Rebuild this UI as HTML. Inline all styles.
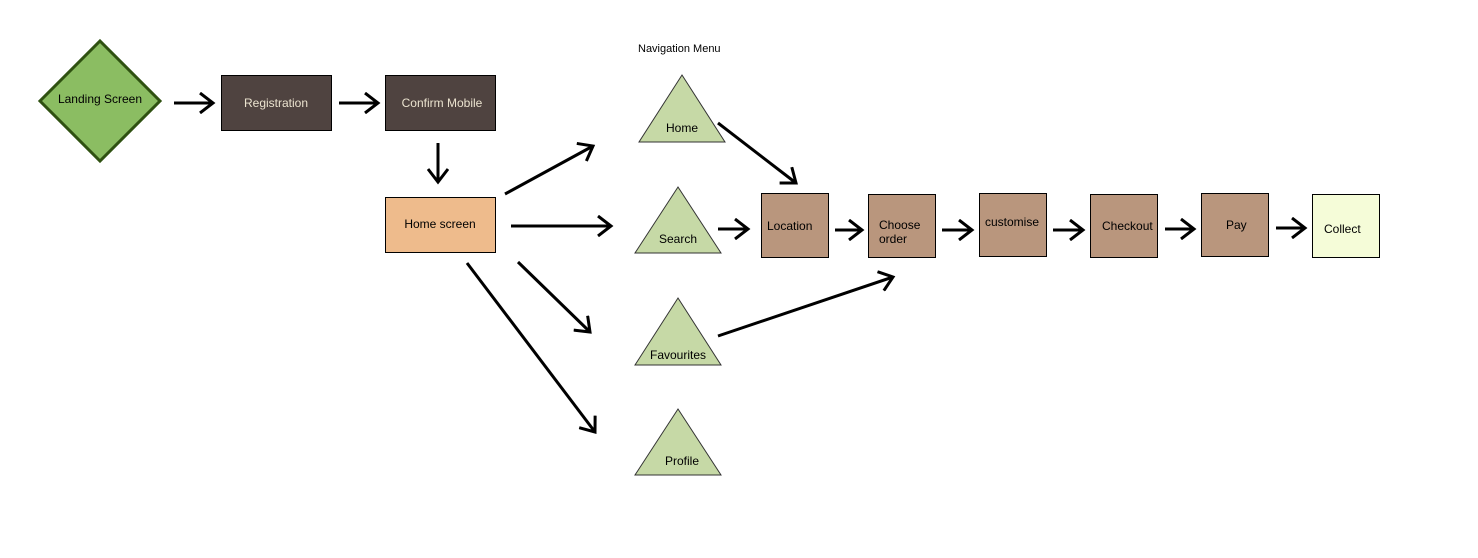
<!DOCTYPE html>
<html><head><style>html,body{margin:0;padding:0;background:#fff;width:1478px;height:558px;overflow:hidden}
text{font-family:"Liberation Sans",sans-serif;font-size:12px}</style></head><body>
<svg width="1478" height="558" viewBox="0 0 1478 558" xmlns="http://www.w3.org/2000/svg">
<defs><marker id="a" markerWidth="20" markerHeight="22" refX="16" refY="11" orient="auto" markerUnits="userSpaceOnUse"><path d="M3,1 L16,11 L3,21" fill="none" stroke="#000" stroke-width="3"/></marker></defs>
<text x="638" y="52" style="font-size:11px">Navigation Menu</text>
<polygon points="100,41 160,101 100,161 40,101" fill="#8bbd62" stroke="#2f5111" stroke-width="3"/>
<text x="100" y="103" text-anchor="middle">Landing Screen</text>
<rect x="221.5" y="75.5" width="110" height="55" fill="#4f4340" stroke="#000"/>
<text x="276" y="107" text-anchor="middle" fill="#ebe3cf">Registration</text>
<rect x="385.5" y="75.5" width="110" height="55" fill="#4f4340" stroke="#000"/>
<text x="442" y="107" text-anchor="middle" fill="#ebe3cf">Confirm Mobile</text>
<rect x="385.5" y="197.5" width="110" height="55" fill="#eebb8c" stroke="#000"/>
<text x="440" y="228" text-anchor="middle">Home screen</text>
<g fill="#c6d9a6" stroke="#333" stroke-width="1">
<polygon points="682,75 725,142 639,142"/>
<polygon points="678,187 721,253 635,253"/>
<polygon points="678,298 721,365 635,365"/>
<polygon points="678,409 721,475 635,475"/>
</g>
<text x="682" y="132" text-anchor="middle">Home</text>
<text x="678" y="243" text-anchor="middle">Search</text>
<text x="678" y="359" text-anchor="middle">Favourites</text>
<text x="682" y="465" text-anchor="middle">Profile</text>
<g fill="#b9967d" stroke="#000">
<rect x="761.5" y="193.5" width="67" height="64"/>
<rect x="868.5" y="194.5" width="67" height="63"/>
<rect x="979.5" y="193.5" width="67" height="63"/>
<rect x="1090.5" y="194.5" width="67" height="63"/>
<rect x="1201.5" y="193.5" width="67" height="63"/>
</g>
<rect x="1312.5" y="194.5" width="67" height="63" fill="#f5fcd8" stroke="#000"/>
<text x="767" y="230">Location</text>
<text x="879" y="229">Choose</text>
<text x="879" y="243">order</text>
<text x="985" y="226">customise</text>
<text x="1102" y="230">Checkout</text>
<text x="1226" y="229">Pay</text>
<text x="1324" y="233">Collect</text>
<g stroke="#000" stroke-width="3" marker-end="url(#a)" fill="none">
<line x1="174" y1="103" x2="213" y2="103"/>
<line x1="339" y1="103" x2="378" y2="103"/>
<line x1="438" y1="143" x2="438" y2="182"/>
<line x1="505" y1="194" x2="593" y2="146"/>
<line x1="511" y1="226" x2="611" y2="226"/>
<line x1="518" y1="262" x2="590" y2="332"/>
<line x1="467" y1="263" x2="595" y2="432"/>
<line x1="718" y1="123" x2="796" y2="183"/>
<line x1="718" y1="229" x2="748" y2="229"/>
<line x1="835" y1="230" x2="862" y2="230"/>
<line x1="942" y1="230" x2="972" y2="230"/>
<line x1="1053" y1="230" x2="1083" y2="230"/>
<line x1="1165" y1="229" x2="1194" y2="229"/>
<line x1="1276" y1="228" x2="1305" y2="228"/>
<line x1="718" y1="336" x2="893" y2="277"/>
</g>
</svg>
</body></html>
